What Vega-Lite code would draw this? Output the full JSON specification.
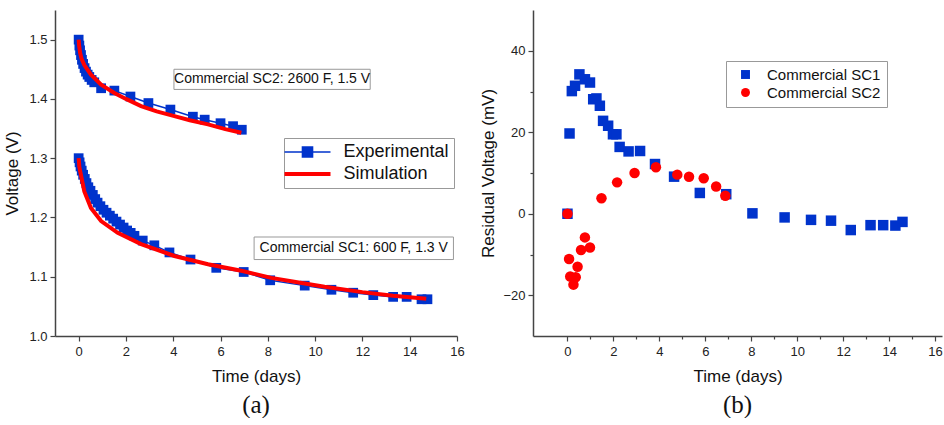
{
  "$schema": "https://vega.github.io/schema/vega-lite/v6.json",
  "autosize": {"type": "pad"},
  "padding": {"left": 3, "top": 10, "right": 0, "bottom": 0},
  "background": "white",
  "spacing": 76,
  "bounds": "flush",
  "config": {
    "view": {"stroke": null},
    "axis": {
      "domainColor": "#444", "domainWidth": 1.5, "tickColor": "#444", "tickWidth": 1.2,
      "labelFont": "Liberation Sans", "labelFontSize": 13, "labelColor": "#222",
      "titleFont": "Liberation Sans", "titleFontSize": 17, "titleFontWeight": "normal", "titleColor": "#111",
      "grid": false, "labelOverlap": false, "labelFlush": false
    },
    "title": {"font": "Liberation Serif", "fontSize": 25, "fontWeight": "normal", "color": "#111"}
  },
  "datasets": {
    "volt": [
      {"series": "Experimental", "cell": "SC2", "t": 0, "v": 1.500},
      {"series": "Experimental", "cell": "SC2", "t": 0.03, "v": 1.490},
      {"series": "Experimental", "cell": "SC2", "t": 0.06, "v": 1.482},
      {"series": "Experimental", "cell": "SC2", "t": 0.10, "v": 1.474},
      {"series": "Experimental", "cell": "SC2", "t": 0.14, "v": 1.466},
      {"series": "Experimental", "cell": "SC2", "t": 0.19, "v": 1.459},
      {"series": "Experimental", "cell": "SC2", "t": 0.25, "v": 1.452},
      {"series": "Experimental", "cell": "SC2", "t": 0.31, "v": 1.446},
      {"series": "Experimental", "cell": "SC2", "t": 0.38, "v": 1.441},
      {"series": "Experimental", "cell": "SC2", "t": 0.45, "v": 1.437},
      {"series": "Experimental", "cell": "SC2", "t": 0.55, "v": 1.432},
      {"series": "Experimental", "cell": "SC2", "t": 0.66, "v": 1.428},
      {"series": "Experimental", "cell": "SC2", "t": 0.95, "v": 1.418},
      {"series": "Experimental", "cell": "SC2", "t": 1.51, "v": 1.414},
      {"series": "Experimental", "cell": "SC2", "t": 2.19, "v": 1.404},
      {"series": "Experimental", "cell": "SC2", "t": 2.95, "v": 1.393},
      {"series": "Experimental", "cell": "SC2", "t": 3.88, "v": 1.382},
      {"series": "Experimental", "cell": "SC2", "t": 4.83, "v": 1.370},
      {"series": "Experimental", "cell": "SC2", "t": 5.33, "v": 1.365},
      {"series": "Experimental", "cell": "SC2", "t": 6.00, "v": 1.359},
      {"series": "Experimental", "cell": "SC2", "t": 6.53, "v": 1.354},
      {"series": "Experimental", "cell": "SC2", "t": 6.90, "v": 1.348},
      {"series": "Simulation", "cell": "SC2", "t": 0, "v": 1.500},
      {"series": "Simulation", "cell": "SC2", "t": 0.02, "v": 1.490},
      {"series": "Simulation", "cell": "SC2", "t": 0.06, "v": 1.478},
      {"series": "Simulation", "cell": "SC2", "t": 0.12, "v": 1.468},
      {"series": "Simulation", "cell": "SC2", "t": 0.24, "v": 1.457},
      {"series": "Simulation", "cell": "SC2", "t": 0.52, "v": 1.441},
      {"series": "Simulation", "cell": "SC2", "t": 0.95, "v": 1.424},
      {"series": "Simulation", "cell": "SC2", "t": 1.51, "v": 1.410},
      {"series": "Simulation", "cell": "SC2", "t": 2.0, "v": 1.400},
      {"series": "Simulation", "cell": "SC2", "t": 2.64, "v": 1.388},
      {"series": "Simulation", "cell": "SC2", "t": 3.3, "v": 1.379},
      {"series": "Simulation", "cell": "SC2", "t": 4.05, "v": 1.371},
      {"series": "Simulation", "cell": "SC2", "t": 4.7, "v": 1.364},
      {"series": "Simulation", "cell": "SC2", "t": 5.47, "v": 1.357},
      {"series": "Simulation", "cell": "SC2", "t": 6.2, "v": 1.349},
      {"series": "Simulation", "cell": "SC2", "t": 6.88, "v": 1.343},
      {"series": "Experimental", "cell": "SC1", "t": 0, "v": 1.300},
      {"series": "Experimental", "cell": "SC1", "t": 0.04, "v": 1.293},
      {"series": "Experimental", "cell": "SC1", "t": 0.08, "v": 1.286},
      {"series": "Experimental", "cell": "SC1", "t": 0.13, "v": 1.279},
      {"series": "Experimental", "cell": "SC1", "t": 0.19, "v": 1.272},
      {"series": "Experimental", "cell": "SC1", "t": 0.26, "v": 1.265},
      {"series": "Experimental", "cell": "SC1", "t": 0.33, "v": 1.258},
      {"series": "Experimental", "cell": "SC1", "t": 0.41, "v": 1.251},
      {"series": "Experimental", "cell": "SC1", "t": 0.50, "v": 1.245},
      {"series": "Experimental", "cell": "SC1", "t": 0.60, "v": 1.238},
      {"series": "Experimental", "cell": "SC1", "t": 0.70, "v": 1.231},
      {"series": "Experimental", "cell": "SC1", "t": 0.80, "v": 1.225},
      {"series": "Experimental", "cell": "SC1", "t": 0.92, "v": 1.219},
      {"series": "Experimental", "cell": "SC1", "t": 1.05, "v": 1.213},
      {"series": "Experimental", "cell": "SC1", "t": 1.18, "v": 1.208},
      {"series": "Experimental", "cell": "SC1", "t": 1.32, "v": 1.203},
      {"series": "Experimental", "cell": "SC1", "t": 1.46, "v": 1.198},
      {"series": "Experimental", "cell": "SC1", "t": 1.60, "v": 1.193},
      {"series": "Experimental", "cell": "SC1", "t": 1.75, "v": 1.188},
      {"series": "Experimental", "cell": "SC1", "t": 1.90, "v": 1.183},
      {"series": "Experimental", "cell": "SC1", "t": 2.05, "v": 1.178},
      {"series": "Experimental", "cell": "SC1", "t": 2.20, "v": 1.174},
      {"series": "Experimental", "cell": "SC1", "t": 2.36, "v": 1.169},
      {"series": "Experimental", "cell": "SC1", "t": 2.71, "v": 1.161},
      {"series": "Experimental", "cell": "SC1", "t": 3.20, "v": 1.153},
      {"series": "Experimental", "cell": "SC1", "t": 3.84, "v": 1.141},
      {"series": "Experimental", "cell": "SC1", "t": 4.73, "v": 1.129},
      {"series": "Experimental", "cell": "SC1", "t": 5.82, "v": 1.115},
      {"series": "Experimental", "cell": "SC1", "t": 6.98, "v": 1.108},
      {"series": "Experimental", "cell": "SC1", "t": 8.10, "v": 1.094},
      {"series": "Experimental", "cell": "SC1", "t": 9.56, "v": 1.085},
      {"series": "Experimental", "cell": "SC1", "t": 10.69, "v": 1.078},
      {"series": "Experimental", "cell": "SC1", "t": 11.61, "v": 1.073},
      {"series": "Experimental", "cell": "SC1", "t": 12.46, "v": 1.069},
      {"series": "Experimental", "cell": "SC1", "t": 13.30, "v": 1.066},
      {"series": "Experimental", "cell": "SC1", "t": 13.87, "v": 1.066},
      {"series": "Experimental", "cell": "SC1", "t": 14.50, "v": 1.062},
      {"series": "Experimental", "cell": "SC1", "t": 14.75, "v": 1.062},
      {"series": "Simulation", "cell": "SC1", "t": 0, "v": 1.300},
      {"series": "Simulation", "cell": "SC1", "t": 0.03, "v": 1.285},
      {"series": "Simulation", "cell": "SC1", "t": 0.10, "v": 1.271},
      {"series": "Simulation", "cell": "SC1", "t": 0.24, "v": 1.244},
      {"series": "Simulation", "cell": "SC1", "t": 0.52, "v": 1.216},
      {"series": "Simulation", "cell": "SC1", "t": 0.95, "v": 1.194},
      {"series": "Simulation", "cell": "SC1", "t": 1.65, "v": 1.174},
      {"series": "Simulation", "cell": "SC1", "t": 2.64, "v": 1.155},
      {"series": "Simulation", "cell": "SC1", "t": 4.05, "v": 1.135},
      {"series": "Simulation", "cell": "SC1", "t": 5.47, "v": 1.121},
      {"series": "Simulation", "cell": "SC1", "t": 6.88, "v": 1.110},
      {"series": "Simulation", "cell": "SC1", "t": 8.15, "v": 1.098},
      {"series": "Simulation", "cell": "SC1", "t": 9.5, "v": 1.089},
      {"series": "Simulation", "cell": "SC1", "t": 10.4, "v": 1.083},
      {"series": "Simulation", "cell": "SC1", "t": 12.0, "v": 1.074},
      {"series": "Simulation", "cell": "SC1", "t": 13.3, "v": 1.068},
      {"series": "Simulation", "cell": "SC1", "t": 14.7, "v": 1.063}
    ],
    "notes": [
      {"label": "Commercial SC2: 2600 F, 1.5 V", "t": 8.18, "v": 1.433, "t1": 4.03, "t2": 12.33, "v1": 1.416, "v2": 1.450},
      {"label": "Commercial SC1: 600 F, 1.3 V", "t": 11.63, "v": 1.148, "t1": 7.42, "t2": 15.85, "v1": 1.129, "v2": 1.167}
    ],
    "resid": [
      {"cell": "Commercial SC1", "t": 0, "mv": 0},
      {"cell": "Commercial SC1", "t": 0.09, "mv": 19.7},
      {"cell": "Commercial SC1", "t": 0.19, "mv": 30.1},
      {"cell": "Commercial SC1", "t": 0.33, "mv": 31.4},
      {"cell": "Commercial SC1", "t": 0.52, "mv": 34.2},
      {"cell": "Commercial SC1", "t": 0.76, "mv": 33.0},
      {"cell": "Commercial SC1", "t": 0.98, "mv": 32.2},
      {"cell": "Commercial SC1", "t": 1.12, "mv": 28.1},
      {"cell": "Commercial SC1", "t": 1.26, "mv": 28.3},
      {"cell": "Commercial SC1", "t": 1.41, "mv": 26.5},
      {"cell": "Commercial SC1", "t": 1.55, "mv": 22.8},
      {"cell": "Commercial SC1", "t": 1.77, "mv": 21.6},
      {"cell": "Commercial SC1", "t": 1.98, "mv": 19.5},
      {"cell": "Commercial SC1", "t": 2.13, "mv": 19.5},
      {"cell": "Commercial SC1", "t": 2.27, "mv": 16.4},
      {"cell": "Commercial SC1", "t": 2.66, "mv": 15.3},
      {"cell": "Commercial SC1", "t": 3.16, "mv": 15.4},
      {"cell": "Commercial SC1", "t": 3.81, "mv": 12.2},
      {"cell": "Commercial SC1", "t": 4.64, "mv": 9.1},
      {"cell": "Commercial SC1", "t": 5.76, "mv": 5.1},
      {"cell": "Commercial SC1", "t": 6.91, "mv": 4.8},
      {"cell": "Commercial SC1", "t": 8.05, "mv": 0.1},
      {"cell": "Commercial SC1", "t": 9.45, "mv": -0.9},
      {"cell": "Commercial SC1", "t": 10.6, "mv": -1.5},
      {"cell": "Commercial SC1", "t": 11.47, "mv": -1.7},
      {"cell": "Commercial SC1", "t": 12.33, "mv": -4.0},
      {"cell": "Commercial SC1", "t": 13.19, "mv": -2.8},
      {"cell": "Commercial SC1", "t": 13.74, "mv": -2.8},
      {"cell": "Commercial SC1", "t": 14.27, "mv": -2.9},
      {"cell": "Commercial SC1", "t": 14.58, "mv": -2.0},
      {"cell": "Commercial SC2", "t": 0, "mv": 0},
      {"cell": "Commercial SC2", "t": 0.07, "mv": -11.1},
      {"cell": "Commercial SC2", "t": 0.12, "mv": -15.4},
      {"cell": "Commercial SC2", "t": 0.26, "mv": -17.4},
      {"cell": "Commercial SC2", "t": 0.36, "mv": -15.6},
      {"cell": "Commercial SC2", "t": 0.44, "mv": -13.0},
      {"cell": "Commercial SC2", "t": 0.59, "mv": -8.9},
      {"cell": "Commercial SC2", "t": 0.76, "mv": -5.8},
      {"cell": "Commercial SC2", "t": 0.98, "mv": -8.3},
      {"cell": "Commercial SC2", "t": 1.48, "mv": 3.8},
      {"cell": "Commercial SC2", "t": 2.16, "mv": 7.7},
      {"cell": "Commercial SC2", "t": 2.92, "mv": 10.0},
      {"cell": "Commercial SC2", "t": 3.85, "mv": 11.4},
      {"cell": "Commercial SC2", "t": 4.78, "mv": 9.6},
      {"cell": "Commercial SC2", "t": 5.29, "mv": 9.1},
      {"cell": "Commercial SC2", "t": 5.93, "mv": 8.7},
      {"cell": "Commercial SC2", "t": 6.47, "mv": 6.7},
      {"cell": "Commercial SC2", "t": 6.87, "mv": 4.4}
    ]
  },
  "resolve": {"scale": {"color": "independent", "x": "independent", "y": "independent"}},
  "hconcat": [
    {
      "width": 402,
      "height": 326,
      "title": {"text": "(a)", "orient": "bottom", "anchor": "middle", "offset": 9},
      "layer": [
        {
          "data": {"name": "volt"},
          "transform": [{"filter": "datum.series === 'Experimental'"}],
          "mark": {"type": "line", "strokeWidth": 1.5},
          "encoding": {
            "x": {"field": "t", "type": "quantitative", "title": "Time (days)",
              "scale": {"domain": [-1, 16], "nice": false, "zero": false},
              "axis": {"values": [0,1,2,3,4,5,6,7,8,9,10,11,12,13,14,15,16],
                "labelExpr": "datum.value % 2 == 0 ? datum.label : ''",
                "tickSize": {"condition": {"test": "datum.value % 2 != 0", "value": 3}, "value": 5},
                "labelPadding": 4, "titlePadding": 10}},
            "y": {"field": "v", "type": "quantitative", "title": "Voltage (V)",
              "scale": {"domain": [1.0, 1.55], "nice": false, "zero": false},
              "axis": {"values": [1.0,1.05,1.1,1.15,1.2,1.25,1.3,1.35,1.4,1.45,1.5],
                "labelExpr": "round(datum.value*20) % 2 == 0 ? format(datum.value, '.1f') : ''",
                "tickSize": {"condition": {"test": "round(datum.value*20) % 2 == 1", "value": 3}, "value": 5},
                "labelPadding": 3, "titlePadding": 7}},
            "detail": {"field": "cell"},
            "color": {"field": "series", "type": "nominal",
              "scale": {"domain": ["Experimental", "Simulation"], "range": ["#0033cc", "#ff0000"]},
              "legend": {"title": null, "orient": "none", "legendX": 229, "legendY": 128,
                "strokeColor": "#999", "fillColor": "white", "padding": 5,
                "labelFont": "Liberation Sans", "labelFontSize": 18, "labelColor": "#111",
                "labelOffset": 27, "symbolOffset": 9.5, "rowPadding": 4,
                "symbolType": "M-1,0L1,0M-0.22,-0.22L0.22,-0.22L0.22,0.22L-0.22,0.22Z",
                "symbolSize": 2116, "symbolStrokeWidth": 1.5,
                "encode": {"symbols": {"update": {
                  "shape": {"signal": "datum.value === 'Experimental' ? 'M-1,0L1,0M-0.22,-0.22L0.22,-0.22L0.22,0.22L-0.22,0.22Z' : 'M-1,0L1,0'"},
                  "fill": {"signal": "datum.value === 'Experimental' ? '#0033cc' : 'transparent'"},
                  "strokeWidth": {"signal": "datum.value === 'Experimental' ? 1.5 : 4"}
                }}}}}
          }
        },
        {
          "data": {"name": "volt"},
          "transform": [{"filter": "datum.series === 'Experimental'"}],
          "mark": {"type": "point", "shape": "square", "filled": true, "opacity": 1, "size": 95, "color": "#0033cc"},
          "encoding": {
            "x": {"field": "t", "type": "quantitative"},
            "y": {"field": "v", "type": "quantitative"}
          }
        },
        {
          "data": {"name": "volt"},
          "transform": [{"filter": "datum.series === 'Simulation'"}],
          "mark": {"type": "line", "strokeWidth": 4},
          "encoding": {
            "x": {"field": "t", "type": "quantitative"},
            "y": {"field": "v", "type": "quantitative"},
            "detail": {"field": "cell"},
            "color": {"field": "series", "type": "nominal"}
          }
        },
        {
          "data": {"name": "notes"},
          "mark": {"type": "rect", "fill": "white", "stroke": "#999", "strokeWidth": 1},
          "encoding": {
            "x": {"field": "t1", "type": "quantitative"},
            "x2": {"field": "t2"},
            "y": {"field": "v1", "type": "quantitative"},
            "y2": {"field": "v2"}
          }
        },
        {
          "data": {"name": "notes"},
          "mark": {"type": "text", "font": "Liberation Sans", "fontSize": 14, "color": "#111", "align": "center", "baseline": "middle"},
          "encoding": {
            "x": {"field": "t", "type": "quantitative"},
            "y": {"field": "v", "type": "quantitative"},
            "text": {"field": "label"}
          }
        }
      ]
    },
    {
      "width": 409,
      "height": 326,
      "title": {"text": "(b)", "orient": "bottom", "anchor": "middle", "offset": 9},
      "layer": [
        {
          "mark": {"type": "rule", "color": "#ff00ff", "strokeWidth": 2},
          "encoding": {"y": {"datum": 0, "type": "quantitative"}}
        },
        {
          "data": {"name": "resid"},
          "mark": {"type": "point", "filled": true, "opacity": 1, "size": 110},
          "encoding": {
            "x": {"field": "t", "type": "quantitative", "title": "Time (days)",
              "scale": {"domain": [-1.5, 16.3], "nice": false, "zero": false},
              "axis": {"values": [0,1,2,3,4,5,6,7,8,9,10,11,12,13,14,15,16],
                "labelExpr": "datum.value % 2 == 0 ? datum.label : ''",
                "tickSize": {"condition": {"test": "datum.value % 2 != 0", "value": 3}, "value": 5},
                "labelPadding": 4, "titlePadding": 10}},
            "y": {"field": "mv", "type": "quantitative", "title": "Residual Voltage (mV)",
              "scale": {"domain": [-30, 50], "nice": false, "zero": false},
              "axis": {"values": [-20,-10,0,10,20,30,40],
                "labelExpr": "abs(round(datum.value/10)) % 2 == 0 ? datum.label : ''",
                "tickSize": {"condition": {"test": "abs(round(datum.value/10)) % 2 == 1", "value": 3}, "value": 5},
                "labelPadding": 3, "titlePadding": 5}},
            "color": {"field": "cell", "type": "nominal",
              "scale": {"domain": ["Commercial SC1", "Commercial SC2"], "range": ["#0033cc", "#ff0000"]},
              "legend": {"title": null, "orient": "none", "legendX": 193, "legendY": 51,
                "strokeColor": "#999", "fillColor": "white", "padding": 6,
                "labelFont": "Liberation Sans", "labelFontSize": 15, "labelColor": "#111",
                "labelOffset": 14, "rowPadding": 2, "symbolSize": 80, "symbolOffset": 6, "symbolOpacity": 1,
                "encode": {"symbols": {"update": {
                  "shape": {"signal": "datum.value === 'Commercial SC1' ? 'square' : 'circle'"}
                }}}}},
            "shape": {"field": "cell", "type": "nominal",
              "scale": {"domain": ["Commercial SC1", "Commercial SC2"], "range": ["square", "circle"]},
              "legend": null}
          }
        }
      ]
    }
  ]
}
